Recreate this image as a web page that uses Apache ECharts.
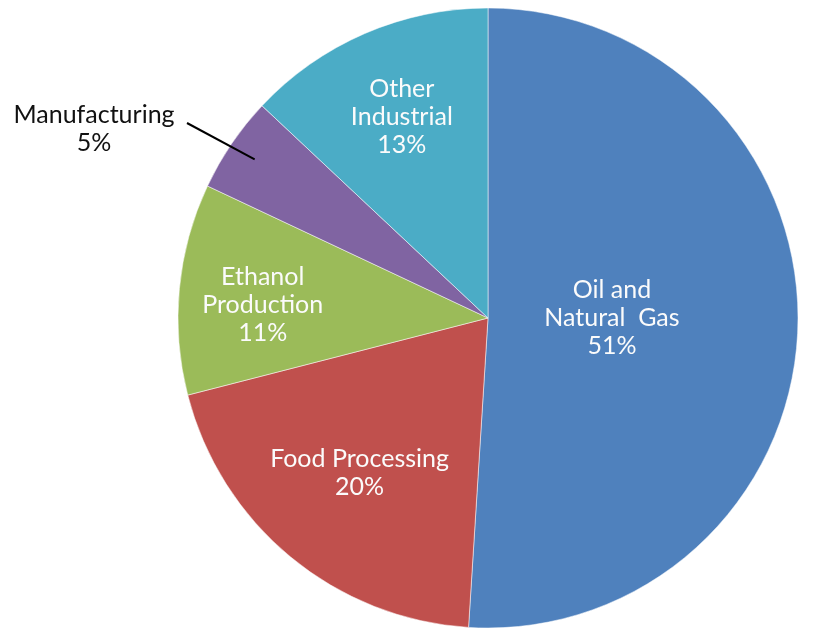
<!DOCTYPE html>
<html><head><meta charset="utf-8">
<script src="https://cdn.jsdelivr.net/npm/echarts@6/dist/echarts.min.js"></script>
<style>html,body{margin:0;padding:0;background:#fff}#c{width:840px;height:631px}</style>
</head><body><div id="c"></div>
<script>
var categories = ['Oil and\nNatural  Gas', 'Food Processing', 'Ethanol\nProduction', 'Manufacturing', 'Other\nIndustrial'];
var values = [51, 20, 11, 5, 13];
var colors = ['#4F81BD', '#C0504D', '#9BBB59', '#8064A2', '#4BACC6'];

var CX = 488, CY = 318, R = 310;
var labelFrac = [0.40, 0.65, 0.73, 0, 0.70];
var labelShiftY = [-4, 0, 8, 0, -2];
var total = values.reduce(function(a,b){return a+b;},0);
var midAngles = [];
(function(){ var acc=0; for (var i=0;i<values.length;i++){ var m=(acc+values[i]/2)/total*Math.PI*2; midAngles.push(m); acc+=values[i]; } })();

var FF = 'Lato', FS = 25, LH = 28;

function pieData(transparent) {
  return categories.map(function(c, i){
    var d = { name: c, value: values[i], itemStyle: { color: transparent ? 'rgba(0,0,0,0)' : colors[i] } };
    return d;
  });
}

var chart = echarts.init(document.getElementById('c'));
chart.setOption({
  animation: false,
  series: [{
    type: 'pie',
    z: 2,
    center: [CX, CY],
    radius: R,
    startAngle: 90,
    clockwise: true,
    silent: true,
    itemStyle: { borderColor: 'rgba(255,255,255,0.5)', borderWidth: 1 },
    label: {
      show: true, position: 'inside',
      formatter: function(p){ return p.dataIndex === 3 ? '' : p.name + '\n' + p.value + '%'; },
      color: '#fbfbfb', fontFamily: FF, fontSize: FS, lineHeight: LH, align: 'center'
    },
    labelLine: { show: false },
    data: pieData(false),
    labelLayout: function(p){
      var i = p.dataIndex, a = midAngles[i];
      var dx = Math.sin(a), dy = -Math.cos(a);
      return { x: CX + dx*R*labelFrac[i], y: CY + dy*R*labelFrac[i] + labelShiftY[i], align: 'center', verticalAlign: 'middle' };
    }
  }, {
    type: 'pie',
    z: 5,
    center: [CX, CY],
    radius: R,
    startAngle: 90,
    clockwise: true,
    silent: true,
    itemStyle: { borderWidth: 0 },
    label: { show: false },
    labelLine: { show: false },
    data: pieData(true).map(function(d, i){
      if (i === 3) {
        d.label = { show: true, position: 'outside', formatter: '{b}\n{c}%', color: '#111', fontFamily: FF, fontSize: FS, lineHeight: LH, align: 'center' };
        d.labelLine = { show: true, lineStyle: { color: '#000', width: 2 } };
      }
      return d;
    }),
    labelLayout: function(p){
      var i = p.dataIndex, a = midAngles[i];
      var dx = Math.sin(a), dy = -Math.cos(a);
      if (i !== 3) return {};
      return {
        x: 94, y: 129, align: 'center', verticalAlign: 'middle',
        labelLinePoints: [[CX + dx*R*0.91, CY + dy*R*0.91], [187, 123], [187, 123]]
      };
    }
  }]
});
</script></body></html>
